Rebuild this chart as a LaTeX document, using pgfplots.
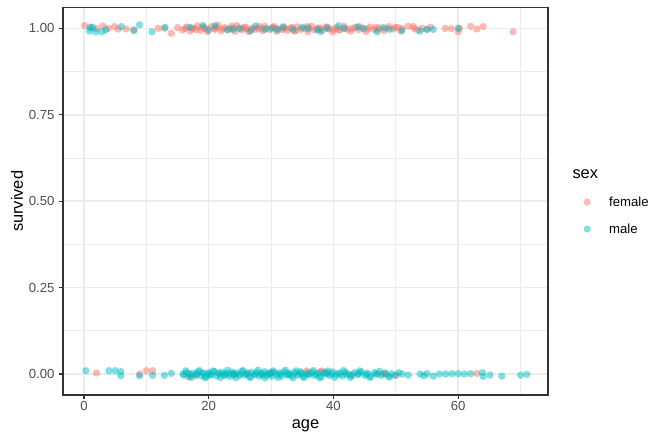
\documentclass[border=0pt]{standalone}
\usepackage{pgfplots}
\pgfplotsset{compat=1.18}
\usepackage{fontspec}
\setmainfont{Liberation Sans}
\definecolor{fem}{HTML}{F8766D}
\definecolor{mal}{HTML}{00BFC4}
\definecolor{grid92}{HTML}{EBEBEB}
\definecolor{grey20}{HTML}{333333}
\definecolor{grey30}{HTML}{4D4D4D}

% survived = 1
\pgfplotstableread{
age y
0.1 1.008
1.0 1.004
2.0 0.999
3.0 1.007
3.9 1.0
4.9 1.005
5.5 0.998
6.8 0.998
8.0 0.996
11.9 1.0
12.9 1.0
14.0 0.986
15.0 1.002
15.8 0.995
16.2 1.0
16.5 1.004
17.0 0.992
17.3 1.0
17.6 1.0
18.0 0.996
18.2 1.007
18.7 0.994
19.0 1.004
19.3 1.001
19.6 0.998
19.8 0.99
20.4 1.005
20.9 1.0
21.0 0.997
21.2 1.003
21.5 1.009
22.0 0.993
22.2 0.999
22.6 1.002
23.1 0.996
23.4 1.0
23.7 1.006
23.9 1.0
24.2 0.991
24.5 1.008
24.8 1.0
25.3 0.995
25.6 1.002
25.9 1.004
26.0 0.998
26.4 0.99
26.8 0.996
27.0 1.001
27.5 0.997
27.8 1.0
28.1 1.006
28.4 1.0
28.6 0.993
29.0 1.006
29.2 1.0
29.8 0.996
30.3 1.003
30.5 1.005
30.8 0.999
30.9 0.991
31.4 0.999
31.8 0.996
32.0 1.005
32.3 1.0
32.6 0.994
33.1 1.001
33.4 1.003
33.7 0.992
34.0 0.993
34.2 1.004
34.8 0.997
35.3 1.0
35.8 1.005
35.9 0.99
36.1 1.0
36.5 1.006
37.0 0.995
37.3 0.998
37.6 1.001
38.0 1.0
38.2 0.993
38.8 1.004
39.0 1.003
39.3 0.998
39.9 0.99
40.0 0.997
40.5 1.002
40.8 0.996
41.0 0.995
41.7 1.006
41.8 1.0
42.3 0.997
42.8 0.992
43.0 1.0
43.5 1.003
44.0 0.996
44.2 1.005
44.6 1.0
45.2 0.991
45.5 0.998
45.9 1.004
46.5 0.997
46.9 1.003
47.0 0.996
47.4 1.001
48.1 0.993
48.5 1.0
48.9 1.005
49.6 0.998
49.9 1.003
50.3 1.003
50.8 0.992
51.0 1.0
52.0 1.006
52.8 1.005
53.0 0.999
53.5 0.995
54.2 1.0
55.0 0.997
55.6 1.003
57.9 1.0
58.9 0.999
60.0 0.99
60.2 1.0
62.0 1.006
63.0 0.998
64.0 1.005
68.8 0.99
}\femaleyes

\pgfplotstableread{
age y
0.9 0.992
1.0 1.001
1.4 1.003
1.9 0.99
2.9 0.99
3.5 0.996
6.0 1.005
8.0 0.993
8.9 1.01
10.9 0.99
13.0 1.003
17.0 1.003
19.1 1.008
20.0 0.995
21.0 1.008
23.0 0.996
23.9 0.997
25.0 1.0
26.7 0.993
27.5 1.007
29.0 0.997
30.0 1.0
31.0 0.996
31.9 1.003
33.5 0.997
35.0 1.003
35.9 1.0
37.5 0.996
37.9 0.991
39.0 1.0
40.8 1.008
41.7 1.0
43.9 1.004
44.9 1.0
47.0 0.99
48.0 1.002
49.0 0.997
51.0 0.994
53.9 0.992
55.0 0.997
56.0 0.997
60.0 1.0
}\maleyes

% survived = 0
\pgfplotstableread{
age y
2.0 0.003
8.9 0.0
10.0 0.0095
11.0 0.0095
16.7 -0.008
18.0 -0.005
24.0 -0.003
26.0 0.0
30.0 0.004
35.7 0.009
36.0 0.005
37.9 0.006
38.1 0.009
39.0 0.004
43.0 -0.002
48.0 0.001
48.3 0.0
50.0 -0.004
63.0 0.002
}\femaleno

\pgfplotstableread{
age y
0.3 0.0095
4.0 0.0095
5.0 0.0095
5.9 0.007
5.9 -0.005
8.9 -0.005
11.0 -0.004
12.9 -0.004
14.0 0.002
15.9 0.0
16.0 -0.003
16.3 0.009
16.5 0.004
16.9 0.0
17.0 -0.006
17.2 -0.01
17.4 0.002
17.9 -0.001
18.0 0.0
18.3 0.006
18.5 0.01
18.8 -0.005
19.0 0.003
19.2 0.001
19.4 -0.011
19.6 -0.008
19.9 0.0
20.0 0.004
20.2 -0.003
20.5 -0.002
20.7 0.009
20.9 0.007
21.3 -0.006
21.5 0.003
21.7 0.0
21.9 -0.01
22.1 0.005
22.3 0.0
22.5 -0.004
22.7 -0.001
22.9 0.002
23.0 0.011
23.3 -0.007
23.5 0.0
23.7 0.006
24.0 0.001
24.1 -0.001
24.3 -0.011
24.5 0.003
24.9 -0.005
25.0 0.0
25.3 0.008
25.5 0.01
25.7 -0.003
26.1 0.001
26.3 0.003
26.5 -0.008
26.7 -0.01
26.9 0.005
27.3 -0.002
27.5 0.0
27.7 0.004
27.9 0.011
28.1 -0.006
28.3 0.0
28.5 0.002
28.7 -0.002
28.9 0.007
29.0 -0.011
29.3 -0.004
29.5 0.003
29.7 0.0
30.0 0.001
30.1 -0.007
30.3 0.009
30.5 0.005
30.9 -0.002
31.1 -0.01
31.3 0.003
31.5 0.0
31.7 -0.006
32.1 0.006
32.3 0.011
32.5 -0.001
32.7 -0.003
32.9 0.002
33.0 0.0
33.3 -0.005
33.5 -0.011
33.8 0.004
34.0 0.009
34.2 -0.003
34.5 0.001
34.7 0.007
35.0 0.002
35.1 -0.007
35.3 -0.01
35.6 0.001
36.0 -0.002
36.2 0.0
36.5 0.005
36.8 0.01
37.0 -0.005
37.2 0.0
37.5 0.002
37.8 -0.011
38.0 -0.008
38.4 0.004
38.7 0.002
38.9 0.0
39.1 0.009
39.4 -0.004
39.7 0.0
39.9 0.006
40.2 -0.01
40.4 -0.002
40.9 0.003
41.0 0.0
41.4 -0.006
41.6 0.01
41.9 0.005
42.0 -0.002
42.4 0.0
42.7 -0.01
42.9 -0.005
43.4 0.004
43.9 -0.002
44.0 0.001
44.2 0.009
44.5 0.006
45.0 -0.004
45.3 0.0
45.5 0.002
45.8 -0.01
46.0 -0.007
46.6 0.004
46.8 0.0
47.1 0.0
47.4 0.008
47.7 -0.004
48.3 0.003
48.8 -0.005
49.0 -0.009
49.3 0.001
49.9 -0.003
50.5 0.004
51.0 0.0
52.0 -0.003
53.9 0.0
54.5 -0.005
55.0 0.001
56.0 -0.006
57.0 0.0
58.0 0.0
59.0 0.001
60.0 0.001
61.0 0.0
62.0 0.001
63.9 0.004
64.0 -0.007
65.1 -0.003
67.0 -0.006
70.0 -0.003
71.0 -0.001
}\maleno

\begin{document}
\begin{tikzpicture}
\begin{axis}[
    name=ax,
    scale only axis,
    width=485bp, height=387.3bp,
    xmin=-3.37, xmax=74.4,
    ymin=-0.0607, ymax=1.0597,
    xtick={0,20,40,60}, xticklabels={0,20,40,60},
    minor xtick={10,30,50,70},
    ytick={0,0.25,0.5,0.75,1}, yticklabels={0.00,0.25,0.50,0.75,1.00},
    minor ytick={0.125,0.375,0.625,0.875},
    tick pos=left,
    grid=both,
    major grid style={color=grid92, line width=1.5bp},
    minor grid style={color=grid92, line width=0.75bp},
    axis line style={color=grey20, line width=1.1bp},
    tick align=outside,
    major tick length=4bp, minor tick length=0pt,
    tick style={color=grey20, line width=1.1bp},
    tick label style={color=grey30, font=\fontsize{13.2}{15}\selectfont},
    xticklabel style={yshift=1bp},
    yticklabel style={xshift=-1bp},
    label style={font=\fontsize{16.5}{19}\selectfont},
    xlabel={age}, ylabel={survived},
    every axis x label/.append style={yshift=-2bp},
    every axis y label/.append style={yshift=-1bp},
    /pgf/number format/assume math mode=true,
    legend cell align=left,
    legend style={at={(axis description cs:1,0.5)}, anchor=north west,
        xshift=31bp, yshift=7bp, draw=none, fill=none,
        font=\fontsize{13.2}{15}\selectfont, row sep=12bp, inner sep=0pt},
    legend image code/.code={
        \path[draw=none, fill=none] (0bp,0bp) -- (28bp,0bp);
        \fill[#1, draw=none] (8bp,0bp) circle (3.6bp);},
    mark size=3.7bp,
]
\addplot[only marks, mark=*, color=fem, fill opacity=0.5,
    mark options={draw opacity=0, fill=fem, fill opacity=0.5}] table[x=age,y=y] {\femaleyes};
\addlegendentry{female}
\addplot[only marks, mark=*, color=mal, fill opacity=0.5,
    mark options={draw opacity=0, fill=mal, fill opacity=0.5}] table[x=age,y=y] {\maleyes};
\addlegendentry{male}
\addplot[only marks, mark=*, color=fem, fill opacity=0.5, forget plot,
    mark options={draw opacity=0, fill=fem, fill opacity=0.5}] table[x=age,y=y] {\femaleno};
\addplot[only marks, mark=*, color=mal, fill opacity=0.5, forget plot,
    mark options={draw opacity=0, fill=mal, fill opacity=0.5}] table[x=age,y=y] {\maleno};
\end{axis}
\node[anchor=base west, font=\fontsize{16.5}{19}\selectfont] at ([shift={(21bp,23bp)}]ax.east) {sex};
\pgfresetboundingbox
\path ([shift={(-63bp,-41bp)}]ax.south west) rectangle ([shift={(103bp,7.7bp)}]ax.north east);
\end{tikzpicture}
\end{document}
